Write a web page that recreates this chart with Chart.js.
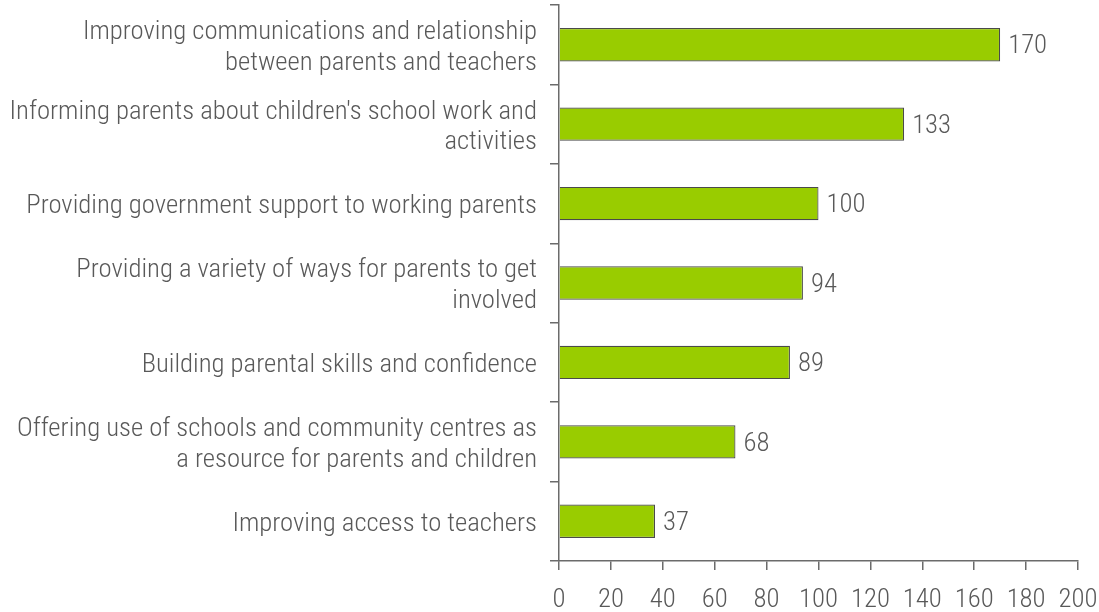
<!DOCTYPE html>
<html>
<head>
<meta charset="utf-8">
<script src="https://cdn.jsdelivr.net/npm/chart.js@4/dist/chart.umd.min.js"></script>
<style>
    html, body { margin: 0; padding: 0; background: #fff; }
    #wrap { width: 1099px; height: 612px; }
</style>
</head>
<body>
<div id="wrap"><canvas id="supportChart"></canvas></div>
<script>
    const categories = [
        ['Improving communications and relationship', 'between parents and teachers'],
        ["Informing parents about children's school work and", 'activities'],
        'Providing government support to working parents',
        ['Providing a variety of ways for parents to get', 'involved'],
        'Building parental skills and confidence',
        ['Offering use of schools and community centres as', 'a resource for parents and children'],
        'Improving access to teachers'
    ];
    const responses = [170, 133, 100, 94, 89, 68, 37];
    const xTicks = [0, 20, 40, 60, 80, 100, 120, 140, 160, 180, 200];

    const fontFamily = "'Roboto Condensed', 'Liberation Sans Narrow', sans-serif";
    const fontSize = 26.7;
    const textColor = '#595959';
    const axisColor = '#6b6b6b';

    // value printed just past the end of each bar
    const valueLabels = {
        id: 'valueLabels',
        afterDatasetsDraw(chart) {
            const c = chart.ctx;
            const meta = chart.getDatasetMeta(0);
            c.save();
            c.font = '300 ' + fontSize + 'px ' + fontFamily;
            c.fillStyle = textColor;
            c.textAlign = 'left';
            c.textBaseline = 'middle';
            meta.data.forEach((bar, i) => {
                c.fillText(responses[i], bar.x + 8, bar.y + 2);
            });
            c.restore();
        }
    };

    new Chart(document.getElementById('supportChart'), {
        type: 'bar',
        data: {
            labels: categories,
            datasets: [{
                data: responses,
                backgroundColor: '#99cc00',
                borderColor: '#4a4a4a',
                borderWidth: 1.2,
                barPercentage: 0.42,
                categoryPercentage: 1
            }]
        },
        options: {
            indexAxis: 'y',
            responsive: true,
            maintainAspectRatio: false,
            animation: false,
            layout: { padding: { top: 5, right: 21, left: 0, bottom: 0 } },
            plugins: { legend: { display: false }, tooltip: { enabled: false } },
            scales: {
                x: {
                    min: 0,
                    max: 200,
                    afterBuildTicks: scale => { scale.ticks = xTicks.map(v => ({ value: v })); },
                    afterFit: scale => {
                        scale.height = 51;
                        scale.paddingLeft = 0;
                        scale.paddingRight = 0;
                    },
                    grid: { drawOnChartArea: false, tickLength: 9, color: axisColor, lineWidth: 1.5 },
                    border: { color: axisColor, width: 1.5 },
                    ticks: {
                        color: textColor,
                        padding: 14,
                        maxRotation: 0,
                        font: { family: fontFamily, size: fontSize, weight: 300, lineHeight: 1.2 }
                    }
                },
                y: {
                    afterFit: scale => {
                        scale.width = 559;
                        scale.paddingTop = 0;
                        scale.paddingBottom = 0;
                    },
                    grid: { drawOnChartArea: false, offset: true, tickLength: 9, color: axisColor, lineWidth: 1.5 },
                    border: { color: axisColor, width: 1.5 },
                    ticks: {
                        color: textColor,
                        padding: 13,
                        labelOffset: 3,
                        font: { family: fontFamily, size: fontSize, weight: 300, lineHeight: 1.14 }
                    }
                }
            }
        },
        plugins: [valueLabels]
    });
</script>
</body>
</html>
